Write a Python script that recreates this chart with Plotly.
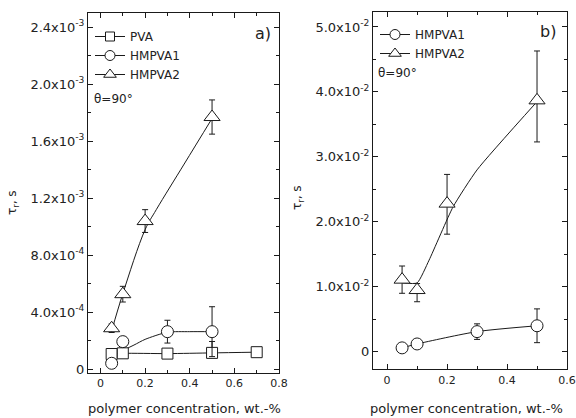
import plotly.graph_objects as go

# ---- panel a) ----
pva_x = [0.05, 0.1, 0.3, 0.5, 0.7]
pva_y = [1.07e-4, 1.12e-4, 1.10e-4, 1.15e-4, 1.20e-4]
pva_err_plus = [0, 0.1e-4, 0, 0.8e-4, 0]
pva_err_minus = [0, 0.1e-4, 0, 0.3e-4, 0]

hm1a_x = [0.05, 0.1, 0.3, 0.5]
hm1a_y = [0.42e-4, 1.94e-4, 2.64e-4, 2.64e-4]
hm1a_err = [0.2e-4, 0.3e-4, 0.8e-4, 1.75e-4]
hm1a_curve_x = [0.09, 0.15, 0.2, 0.3, 0.4, 0.5]
hm1a_curve_y = [1.25e-4, 1.7e-4, 2.1e-4, 2.6e-4, 2.64e-4, 2.64e-4]

hm2a_x = [0.05, 0.1, 0.2, 0.5]
hm2a_y = [2.88e-4, 5.27e-4, 1.04e-3, 1.77e-3]
hm2a_err = [0.3e-4, 0.55e-4, 0.08e-3, 0.12e-3]
hm2a_curve_x = [0.05, 0.1, 0.2, 0.25, 0.375, 0.5]
hm2a_curve_y = [2.7e-4, 5.3e-4, 0.98e-3, 1.12e-3, 1.44e-3, 1.76e-3]

# ---- panel b) ----
hm1b_x = [0.05, 0.1, 0.3, 0.5]
hm1b_y = [0.0006, 0.0012, 0.0031, 0.0040]
hm1b_err = [0.0005, 0.0005, 0.0012, 0.0026]

hm2b_x = [0.05, 0.1, 0.2, 0.5]
hm2b_y = [0.0111, 0.0095, 0.0228, 0.0387]
hm2b_err_plus = [0.0021, 0.001, 0.0045, 0.0076]
hm2b_err_minus = [0.0021, 0.0018, 0.0047, 0.0064]
hm2b_curve_x = [0.05, 0.1, 0.14, 0.22, 0.3, 0.5]
hm2b_curve_y = [0.0106, 0.0106, 0.0141, 0.0223, 0.028, 0.0385]

ya_vals = [0, 4e-4, 8e-4, 1.2e-3, 1.6e-3, 2.0e-3, 2.4e-3]
ya_text = ["0", "4.0x10<sup>-4</sup>", "8.0x10<sup>-4</sup>", "1.2x10<sup>-3</sup>",
           "1.6x10<sup>-3</sup>", "2.0x10<sup>-3</sup>", "2.4x10<sup>-3</sup>"]
yb_vals = [0, 0.01, 0.02, 0.03, 0.04, 0.05]
yb_text = ["0", "1.0x10<sup>-2</sup>", "2.0x10<sup>-2</sup>", "3.0x10<sup>-2</sup>",
           "4.0x10<sup>-2</sup>", "5.0x10<sup>-2</sup>"]

INK = "#1a1a1a"
FONT = "DejaVu Sans"

fig = go.Figure()


def err(arr, minus=None):
    d = dict(type="data", array=arr, visible=True, color=INK, thickness=1, width=3)
    if minus is not None:
        d["symmetric"] = False
        d["arrayminus"] = minus
    return d


def marker(sym, size):
    return dict(symbol=sym, size=size, color="white", line=dict(color=INK, width=1))


def add_line(x, y, xa, ya, smooth=0.7):
    fig.add_trace(go.Scatter(x=x, y=y, mode="lines", xaxis=xa, yaxis=ya,
                             line=dict(color=INK, width=1, shape="spline", smoothing=smooth),
                             showlegend=False, hoverinfo="skip"))


def add_pts(x, y, e, sym, size, xa, ya):
    fig.add_trace(go.Scatter(x=x, y=y, mode="markers", xaxis=xa, yaxis=ya,
                             marker=marker(sym, size), error_y=e, showlegend=False))


def add_key(name, sym, size, legend):
    fig.add_trace(go.Scatter(x=[None], y=[None], mode="lines+markers", name=name,
                             marker=marker(sym, size), line=dict(color=INK, width=1),
                             legend=legend))


# panel a
add_line(pva_x, pva_y, "x", "y")
add_line(hm1a_curve_x, hm1a_curve_y, "x", "y")
add_line(hm2a_curve_x, hm2a_curve_y, "x", "y", smooth=1.0)
add_pts(pva_x, pva_y, err(pva_err_plus, pva_err_minus), "square", 11, "x", "y")
add_pts(hm1a_x, hm1a_y, err(hm1a_err), "circle", 12, "x", "y")
add_pts(hm2a_x, hm2a_y, err(hm2a_err), "triangle-up", 14, "x", "y")
add_key("PVA", "square", 9, "legend")
add_key("HMPVA1", "circle", 10, "legend")
add_key("HMPVA2", "triangle-up", 11, "legend")

# panel b
add_line(hm1b_x, hm1b_y, "x2", "y2")
add_line(hm2b_curve_x, hm2b_curve_y, "x2", "y2", smooth=0.5)
add_pts(hm1b_x, hm1b_y, err(hm1b_err), "circle", 12, "x2", "y2")
add_pts(hm2b_x, hm2b_y, err(hm2b_err_plus, hm2b_err_minus), "triangle-up", 14, "x2", "y2")
add_key("HMPVA1", "circle", 10, "legend2")
add_key("HMPVA2", "triangle-up", 11, "legend2")

W, H = 576, 418
axis_common = dict(showline=True, linecolor=INK, linewidth=1, mirror="allticks",
                   ticks="inside", ticklen=5, tickcolor=INK, showgrid=False, zeroline=False,
                   automargin=False,
                   minor=dict(ticks="inside", ticklen=3, tickcolor=INK))
xtick_font = dict(family=FONT, size=11, color="#222")
ytick_font = dict(family=FONT, size=13, color="#222")

fig.update_layout(
    width=W, height=H,
    margin=dict(l=0, r=0, t=0, b=0),
    paper_bgcolor="white", plot_bgcolor="white",
    font=dict(family=FONT, size=12, color="#222"),
    xaxis=dict(domain=[88 / W, 279 / W], range=[-0.056, 0.8], anchor="y",
               tickvals=[0, 0.2, 0.4, 0.6, 0.8], ticktext=["0", "0.2", "0.4", "0.6", "0.8"],
               minor_dtick=0.1, tickfont=xtick_font, **axis_common),
    yaxis=dict(domain=[1 - 372.7 / H, 1 - 13 / H], range=[-2.4e-5, 2.5e-3], anchor="x",
               tickvals=ya_vals, ticktext=ya_text, minor_dtick=2e-4, tickfont=ytick_font,
               **axis_common),
    xaxis2=dict(domain=[373 / W, 567 / W], range=[-0.047, 0.6], anchor="y2",
                tickvals=[0, 0.2, 0.4, 0.6], ticktext=["0", "0.2", "0.4", "0.6"],
                minor_dtick=0.1, tickfont=xtick_font, **axis_common),
    yaxis2=dict(domain=[1 - 369.3 / H, 1 - 12 / H], range=[-0.0027, 0.0523], anchor="x2",
                tickvals=yb_vals, ticktext=yb_text, minor_dtick=0.005, tickfont=ytick_font,
                **axis_common),
    legend=dict(x=90 / W, y=1 - 22 / H, xanchor="left", yanchor="top",
                bgcolor="rgba(0,0,0,0)", font=dict(size=12), tracegroupgap=0,
                itemwidth=30),
    legend2=dict(x=375 / W, y=1 - 20 / H, xanchor="left", yanchor="top",
                 bgcolor="rgba(0,0,0,0)", font=dict(size=12), tracegroupgap=0,
                 itemwidth=30),
)

ann = [
    dict(text="a)", x=273 / W, y=1 - 33 / H, xanchor="right", font=dict(size=16)),
    dict(text="b)", x=558 / W, y=1 - 32 / H, xanchor="right", font=dict(size=16)),
    dict(text="θ=90°", x=92 / W, y=1 - 99 / H, xanchor="left", font=dict(size=12)),
    dict(text="θ=90°", x=376 / W, y=1 - 73 / H, xanchor="left", font=dict(size=12)),
    dict(text="τ<sub>r</sub>, s", x=13 / W, y=1 - 203 / H, textangle=-90, font=dict(size=12)),
    dict(text="τ<sub>r</sub>, s", x=298 / W, y=1 - 198 / H, textangle=-90, font=dict(size=12)),
    dict(text="polymer concentration, wt.-%", x=184 / W, y=1 - 408 / H, font=dict(size=13)),
    dict(text="polymer concentration, wt.-%", x=466 / W, y=1 - 408 / H, font=dict(size=13)),
]
for a in ann:
    a.update(xref="paper", yref="paper", showarrow=False, yanchor="middle")
    a.setdefault("xanchor", "center")
fig.update_layout(annotations=ann)

# drop the default 8px page margin so the figure sits at the window's corner
fig.write_html("out.html", config={"displayModeBar": False},
               post_script="document.body.style.margin='0';")
